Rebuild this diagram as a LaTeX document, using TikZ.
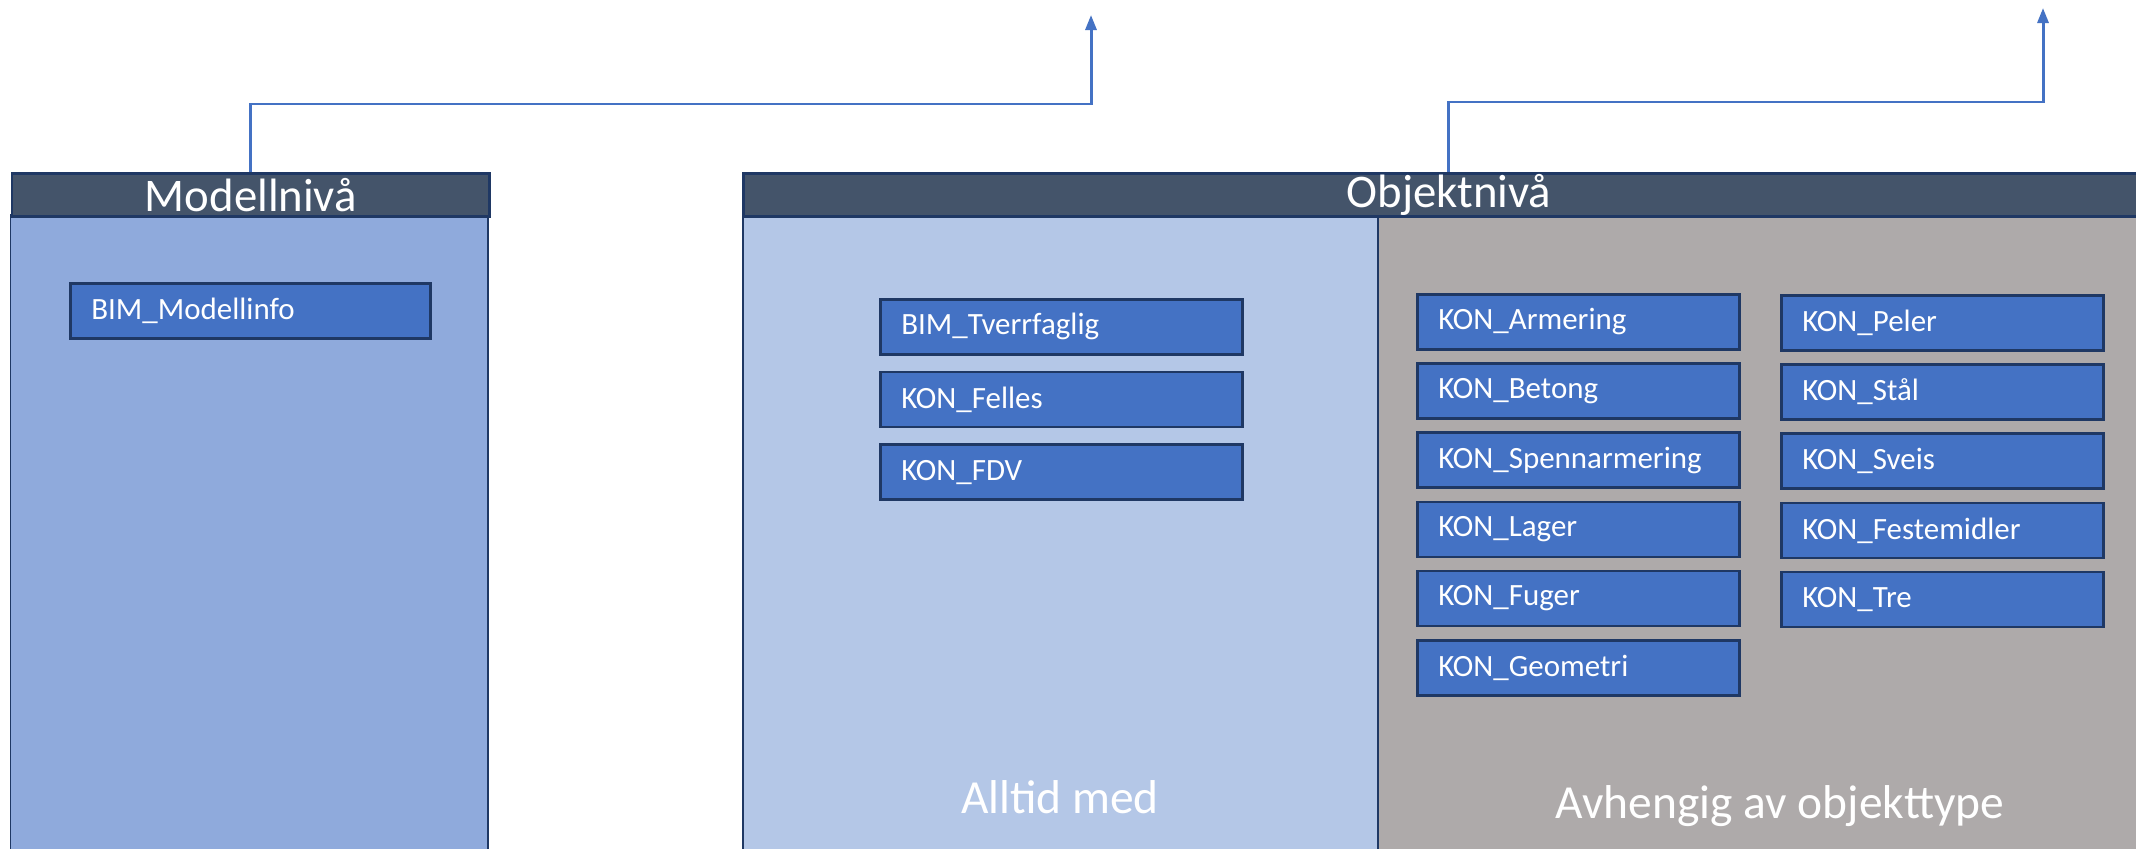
\documentclass[tikz,border=0pt]{standalone}
\usepackage{fontspec}
\setmainfont{Carlito}
\usepackage{xcolor}
\usetikzlibrary{positioning, arrows.meta}
\definecolor{hdrcol}{HTML}{44546A}
\definecolor{edgecol}{HTML}{1F3864}
\definecolor{modellbg}{HTML}{8FAADC}
\definecolor{alltidbg}{HTML}{B4C7E7}
\definecolor{avhbg}{HTML}{AEAAAA}
\definecolor{boxcol}{HTML}{4472C4}
\tikzstyle{arrow} = [draw=boxcol, line width=0.85pt, -{Triangle[length=0.15cm, width=0.11cm]}]
\tikzstyle{hdr} = [draw=edgecol, line width=0.85pt, fill=hdrcol, text=white, anchor=north west, minimum height=0.43cm, inner sep=0pt, font=\fontsize{13.3}{16}\selectfont]
\tikzstyle{panel} = [draw=edgecol, line width=0.5pt]
\tikzstyle{tagbox} = [draw=edgecol, line width=0.75pt, fill=boxcol, text=white, text width=#1, inner xsep=0.21cm, inner ysep=0.1cm, minimum height=0.55cm, align=left, font=\fontsize{8.8}{10}\selectfont]
\tikzstyle{foot} = [text=white, anchor=base, font=\fontsize{13.5}{16}\selectfont]

\begin{document}
\begin{tikzpicture}[x=0.01cm, y=-0.01cm, node distance=0.115cm]
    \clip (0,0) rectangle (2136,848);
    \fill[white] (0,0) rectangle (2136,848);

    % Panels
    \filldraw[panel, fill=modellbg] (10.5,215) rectangle (488,870);
    \filldraw[panel, fill=alltidbg] (743,216) rectangle (1378,870);
    \filldraw[panel, fill=avhbg] (1378,216) rectangle (2160,870);

    \node[hdr, minimum width=4.775cm] (modell) at (10.5,172) {Modellnivå};
    \node[hdr, minimum width=14.1cm] (objekt) at (742,172) {Objektnivå};

    % Modellniva
    \node[tagbox=3.18cm, anchor=north west] (modinfo) at (69,282) {BIM\_Modellinfo};

    % Alltid med
    \node[tagbox=3.2cm, anchor=north west] (tverr) at (879,298) {BIM\_Tverrfaglig};
    \node[tagbox=3.2cm, below=0.15cm of tverr] (felles) {KON\_Felles};
    \node[tagbox=3.2cm, below=0.15cm of felles] (fdv) {KON\_FDV};

    % Avhengig av objekttype
    \node[tagbox=2.8cm, anchor=north west] (armering) at (1416,293) {KON\_Armering};
    \node[tagbox=2.8cm, below=of armering] (betong) {KON\_Betong};
    \node[tagbox=2.8cm, below=of betong] (spenn) {KON\_Spennarmering};
    \node[tagbox=2.8cm, below=of spenn] (lager) {KON\_Lager};
    \node[tagbox=2.8cm, below=of lager] (fuger) {KON\_Fuger};
    \node[tagbox=2.8cm, below=of fuger] (geometri) {KON\_Geometri};

    \node[tagbox=2.8cm, anchor=north west] (peler) at (1780,294) {KON\_Peler};
    \node[tagbox=2.8cm, below=of peler] (staal) {KON\_Stål};
    \node[tagbox=2.8cm, below=of staal] (sveis) {KON\_Sveis};
    \node[tagbox=2.8cm, below=of sveis] (feste) {KON\_Festemidler};
    \node[tagbox=2.8cm, below=of feste] (tre) {KON\_Tre};

    \node[foot] (alltid) at (1060,813) {Alltid med};
    \node[foot] (avh) at (1780,818) {Avhengig av objekttype};

    % Edges
    \coordinate (modtop) at (1091,15);
    \coordinate (objtop) at (2043,8);
    \draw[arrow] (modell.north) -- ++(0,-68) -| (modtop);
    \draw[arrow] (objekt.north) -- ++(0,-70) -| (objtop);
\end{tikzpicture}
\end{document}
